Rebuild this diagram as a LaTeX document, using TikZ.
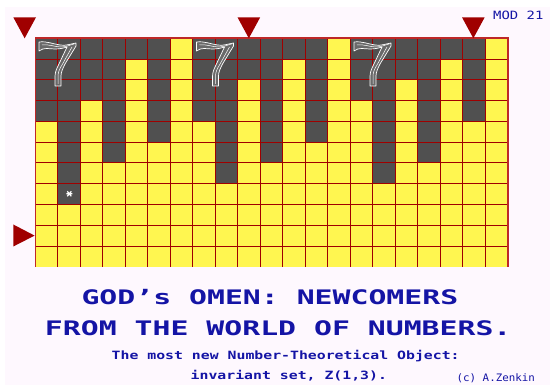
\documentclass[tikz,border=0pt]{standalone}
\usepackage{fontspec}
\newfontfamily\titlefont{DejaVu Sans Mono}[FakeStretch=1.49]
\newfontfamily\subfont{DejaVu Sans Mono}[FakeStretch=1.3]
\newfontfamily\modfont{DejaVu Sans Mono}[FakeStretch=1.22]
\newfontfamily\copyfont{DejaVu Sans Mono}[FakeStretch=1.05]
\definecolor{bgpink}{RGB}{254,248,254}
\definecolor{cellyellow}{RGB}{255,246,80}
\definecolor{cellgray}{RGB}{80,80,80}
\definecolor{gridred}{RGB}{160,0,0}
\definecolor{borderred}{RGB}{190,40,40}
\definecolor{textblue}{RGB}{20,20,165}
\definecolor{sevengray}{RGB}{105,105,105}
\tikzset{
  gridline/.style={draw=gridred, line width=0.9pt},
  marker/.style={fill=gridred},
  bigtext/.style={anchor=base west, inner sep=0pt, text=textblue, font=\titlefont\bfseries\fontsize{20}{24}\selectfont},
  smalltext/.style={anchor=base west, inner sep=0pt, text=textblue, font=\subfont\bfseries\fontsize{11.4}{13}\selectfont},
  seven/.pic={
    \filldraw[fill=sevengray, draw=white, line width=0.7pt, line join=round]
      (0,0) -- (0,9) .. controls (5,5) and (10,7) .. (16,7)
      .. controls (21,7) and (25,6) .. (28,5)
      -- (19,24) .. controls (17,28) and (16,31) .. (16,35) -- (16,44) -- (22,44) -- (22,34)
      .. controls (22,30) and (24,26) .. (26,22) -- (37,4) -- (37,1)
      .. controls (31,2) and (27,4) .. (21,3)
      .. controls (14,2) and (8,-1) .. (0,0) -- cycle;
    \draw[white, line width=0.5pt] (19,42) -- (19,34) .. controls (19,30) and (21,26) .. (23,23) -- (33,5);
    \draw[white, line width=0.5pt] (3,3) .. controls (10,2) and (16,5) .. (22,5) .. controls (27,5) and (31,3) .. (35,2);
  }
}
\begin{document}
\begin{tikzpicture}[x=1pt,y=-1pt]
\useasboundingbox (0,0) rectangle (550,385);
\fill[white] (0,0) rectangle (550,385);
\fill[bgpink] (5,7) rectangle (550,385);
\def\gx{35.3}\def\gy{38.3}\def\cw{22.5}\def\rh{20.77}
% cells
\foreach \d [count=\c from 0] in {4,8,3,6,1,5,0,4,7,2,6,1,5,0,3,7,2,6,1,4,0} {
  \fill[cellyellow] ({\gx+\c*\cw},\gy) rectangle ++(\cw,{11*\rh});
  \ifnum\d>0 \fill[cellgray] ({\gx+\c*\cw},\gy) rectangle ++(\cw,{\d*\rh}); \fi
}
% grid lines
\foreach \r in {0,...,10}
  \draw[gridline] (\gx,{\gy+\r*\rh}) -- ({\gx+21*\cw},{\gy+\r*\rh});
\foreach \c in {0,...,21}
  \draw[gridline] ({\gx+\c*\cw},\gy) -- ({\gx+\c*\cw},{\gy+11*\rh});
\draw[draw=borderred, line width=1.6pt] (\gx,{\gy+11*\rh}) -- (\gx,\gy) -- ({\gx+21*\cw},\gy) -- ({\gx+21*\cw},{\gy+11*\rh});
% sevens
\pic at (39,42) {seven};
\pic at (196.5,42) {seven};
\pic at (354,42) {seven};
% asterisk
\draw[white, line width=1.2pt] (66.3,193.8) -- (72.3,193.8) (67.3,191.3) -- (71.3,196.3) (67.3,196.3) -- (71.3,191.3);
% markers
\fill[marker] (13.3,17.3) -- (36,17.3) -- (24.65,38.3) -- cycle;
\fill[marker] (237.5,17.3) -- (260.2,17.3) -- (248.85,38.3) -- cycle;
\fill[marker] (462,17.3) -- (484.7,17.3) -- (473.35,38.3) -- cycle;
\fill[marker] (13.3,224.5) -- (34.6,235.6) -- (13.3,246.5) -- cycle;
% texts
\node[anchor=base west, inner sep=0pt, text=textblue, font=\modfont\fontsize{11.4}{13}\selectfont] (mod) at (493,20) {MOD 21};
\node[bigtext] (t1) at (81.3,305) {GOD’s OMEN: NEWCOMERS};
\node[bigtext] (t2) at (44.8,335.5) {FROM THE WORLD OF NUMBERS.};
\node[smalltext] (s1) at (111.5,359.3) {The most new Number-Theoretical Object:};
\node[smalltext] (s2) at (190.5,380) {invariant set, Z(1,3).};
\node[anchor=base west, inner sep=0pt, text=textblue, font=\copyfont\fontsize{10.3}{12}\selectfont] (copy) at (456.5,382) {(c) A.Zenkin};
\end{tikzpicture}
\end{document}
